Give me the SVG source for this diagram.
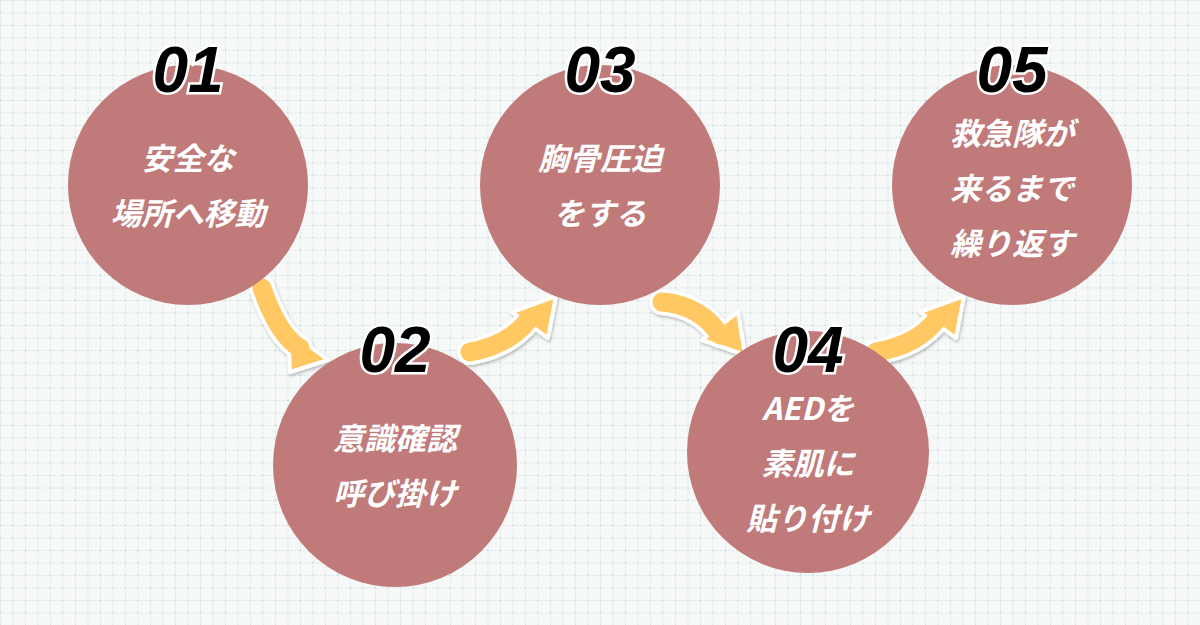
<svg xmlns="http://www.w3.org/2000/svg" width="1200" height="625" viewBox="0 0 1200 625">
<defs>
<pattern id="g" width="12.5" height="12.5" patternUnits="userSpaceOnUse">
<path d="M0 0H12.5M0 0V12.5" stroke="#bcd2d4" stroke-width="1" stroke-dasharray="2 1.5" fill="none"/>
</pattern>
<filter id="sh" x="-20%" y="-20%" width="140%" height="140%"><feDropShadow dx="1" dy="2" stdDeviation="1.5" flood-color="#000" flood-opacity="0.25"/></filter>
</defs>
<style>
.c{fill:#c07a7a}
.t{font-family:"Noto Sans CJK JP","Liberation Sans",sans-serif;font-weight:bold;font-size:31px;font-style:italic;fill:#fff;text-anchor:middle}
.n{font-family:"Liberation Sans",sans-serif;font-weight:bold;font-style:italic;font-size:64px;fill:#000;stroke:#fff;stroke-width:5;paint-order:stroke;text-anchor:middle}
.ao{fill:none;stroke:#fff;stroke-width:26;stroke-linecap:round}
.a{fill:none;stroke:#ffc863;stroke-width:19;stroke-linecap:round}
.ho{fill:#ffc863;stroke:#fff;stroke-width:4;stroke-linejoin:round}
</style>
<rect width="1200" height="625" fill="#f7f9f9"/>
<rect width="1200" height="625" fill="url(#g)"/>
<g id="connectors" filter="url(#sh)">
<g><path class="ao" d="M262 288 Q278 335 300 348"/><polygon class="ho" points="288,330 328,360 290,372"/><path class="a" d="M262 288 Q278 335 300 348"/></g>
<g><path class="ao" d="M470 352 Q510 345 530 318"/><polygon class="ho" points="512,312 556,296 548,338"/><path class="a" d="M470 352 Q510 345 530 318"/></g>
<g><path class="ao" d="M662 302 Q700 305 720 335"/><polygon class="ho" points="702,340 745,355 738,312"/><path class="a" d="M662 302 Q700 305 720 335"/></g>
<g><path class="ao" d="M876 352 Q918 345 938 318"/><polygon class="ho" points="920,312 964,296 956,338"/><path class="a" d="M876 352 Q918 345 938 318"/></g>
</g>
<g id="n1"><circle class="c" cx="188" cy="185" r="120"/><text class="t" x="188" y="170">安全な</text><text class="t" x="188" y="225">場所へ移動</text><text class="n" x="188" y="92">01</text></g>
<g id="n2"><circle class="c" cx="395" cy="465" r="122"/><text class="t" x="395" y="450">意識確認</text><text class="t" x="395" y="505">呼び掛け</text><text class="n" x="395" y="372">02</text></g>
<g id="n3"><circle class="c" cx="600" cy="185" r="120"/><text class="t" x="600" y="170">胸骨圧迫</text><text class="t" x="600" y="225">をする</text><text class="n" x="600" y="92">03</text></g>
<g id="n4"><circle class="c" cx="808" cy="452" r="121"/><text class="t" x="808" y="420">AEDを</text><text class="t" x="808" y="475">素肌に</text><text class="t" x="808" y="530">貼り付け</text><text class="n" x="808" y="372">04</text></g>
<g id="n5"><circle class="c" cx="1012" cy="185" r="120"/><text class="t" x="1012" y="145">救急隊が</text><text class="t" x="1012" y="200">来るまで</text><text class="t" x="1012" y="255">繰り返す</text><text class="n" x="1012" y="92">05</text></g>
</svg>
